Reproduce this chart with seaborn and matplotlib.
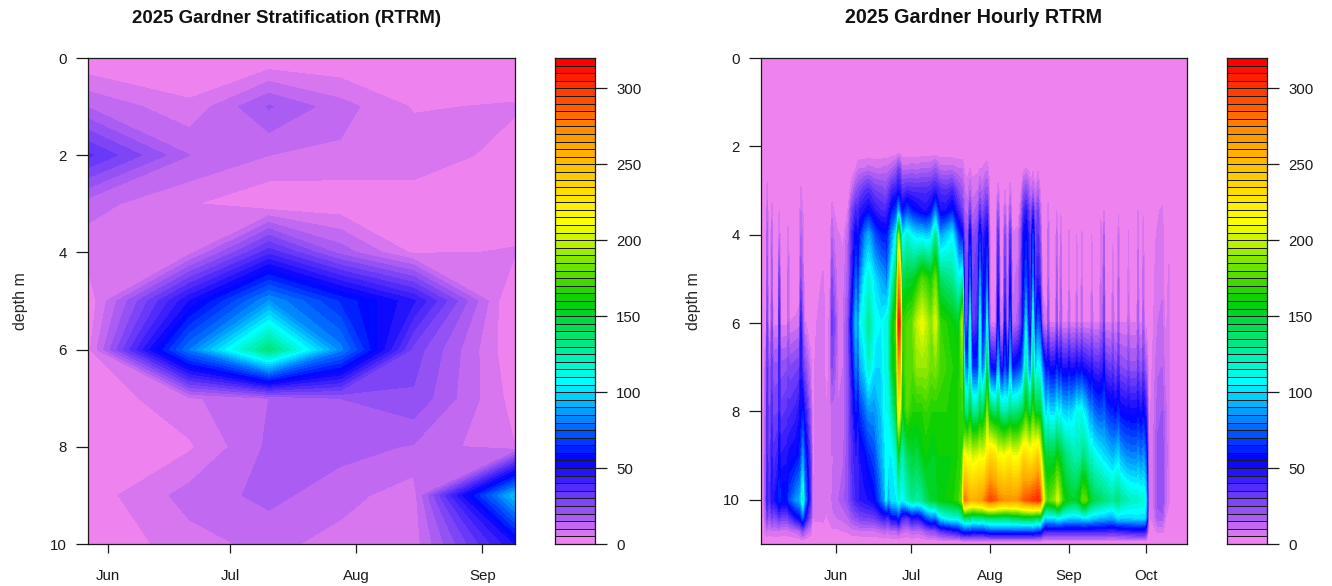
# gardner_rtrm.py

import numpy as np
import matplotlib
matplotlib.use("Agg")
import matplotlib.pyplot as plt
from matplotlib.colors import ListedColormap
import seaborn as sns

# Tick labels (x positions are day of year, hourly panel runs on its own day scale)
month_names = ["Jun", "Jul", "Aug", "Sep", "Oct"]
strat_month_days = [152, 182, 213, 244]
hourly_month_days = [152, 182, 213.6, 245.2, 276]
depth_ticks = [0, 2, 4, 6, 8, 10]
key_ticks = [0, 50, 100, 150, 200, 250, 300]

# Stratification profiles, one row per depth, one column per sampling date
strat_days = [147, 172, 191.5, 209, 227, 252]
strat_depths = [0, 1, 2, 3, 4, 5, 6, 7, 8, 9, 10]
strat_rtrm = [
    [0, 0, 0, 0, 0, 0],
    [14.5, 6, 20.5, 12, 4.5, 5.5],
    [36, 15, 10, 9, 8, 3],
    [12, 5.5, 0.5, 1, 2, 1],
    [7, 8, 38, 18, 4, 5.5],
    [1, 50, 85, 64, 46, -3],
    [3, 80, 135, 82, 28, 0],
    [1, 9, 15, 20, 24, 2.5],
    [1, 4.2, 16, 17, 14.5, 5],
    [2, 12, 16.5, 12, 7, 95],
    [0, 8, 11.5, 8, 7, 50],
]

# Hourly logger: one row per time, one value per depth
hourly_depths = [2.1, 2.5, 3.0, 3.45, 4, 5, 6, 7, 8, 9, 10, 10.4, 10.7, 10.95]
hourly_days = [
    123, 123.8, 124.2, 124.5, 124.9, 125.9, 126.3, 126.8, 128.9, 129.3, 129.8,
    132.5, 132.9, 133.4, 136, 137.4, 137.9, 138.7, 139.4, 140, 141.8, 142.6,
    143.5, 146.8, 148.2, 149.8, 150.4, 151, 152.5, 155, 157, 158.2,
    160, 160.8, 161.6, 163.5, 165, 167.5, 170, 171.6, 172, 173, 174.4, 176.3, 177,
    177.6, 178.4, 180.5, 182.5, 184.5, 186.5, 188, 190, 191.8, 193.5, 196, 198.5,
    201, 202.5, 203.4, 204.8, 205.6, 206.4, 208.8, 209.6, 210.4, 212, 212.5,
    213.1, 213.7, 216, 216.9, 217.6, 218.9, 219.6, 220.3, 221.1, 221.7, 222.4,
    225, 226.2, 227, 228, 229, 230, 230.8, 231.6, 232.8, 233.6, 234.5, 235.5,
    236.5, 236.9, 237.4, 239.9, 240.3, 240.7, 241.5, 241.9, 242.4, 244.8, 245.2,
    245.7, 247.9, 248.3, 248.7, 249.9, 250.3, 250.7, 251.8, 253.9, 254.3, 254.8,
    257.5, 257.9, 258.5, 259.2, 259.6, 262.3, 262.7, 263.2, 264.6, 265, 265.4,
    268.6, 269, 269.4, 272.4, 272.8, 273.3, 274.5, 274.9, 275.4, 276.2, 277,
    278.8, 280.8, 282.4, 283.6, 285.2, 286,
]
hourly_rtrm = [
    [0, 0, 0, 0, 0, 0, 0, 0, 0, 0, 0, 0, 0, 0],
    [0, 0, 0, 0, 0, 0, 0, 12, 15, 18, 20, 15, 8, 0],
    [0, 0, 0, 0, 0, 0, 3, 20, 22, 24, 28, 18, 8, 0],
    [0, 0, 8, 12, 18, 22, 30, 35, 38, 40, 45, 30, 10, 0],
    [0, 0, 0, 0, 0, 0, 3, 20, 25, 30, 35, 20, 8, 0],
    [0, 0, 0, 0, 0, 0, 3, 20, 26, 32, 38, 22, 8, 0],
    [0, 0, 0, 8, 14, 18, 25, 32, 38, 45, 50, 30, 10, 0],
    [0, 0, 0, 0, 0, 0, 4, 22, 28, 36, 45, 25, 9, 0],
    [0, 0, 0, 0, 0, 0, 4, 22, 30, 42, 58, 30, 10, 0],
    [0, 0, 0, 5, 10, 30, 42, 42, 45, 55, 65, 35, 10, 0],
    [0, 0, 0, 0, 0, 0, 4, 22, 32, 45, 60, 30, 8, 0],
    [0, 0, 0, 0, 0, 0, 4, 24, 36, 48, 60, 30, 8, 0],
    [0, 0, 0, 0, 8, 12, 15, 28, 38, 50, 62, 30, 8, 0],
    [0, 0, 0, 0, 0, 0, 5, 25, 38, 52, 70, 35, 10, 0],
    [0, 0, 0, 0, 0, 0, 6, 28, 42, 55, 85, 50, 12, 0],
    [0, 0, 0, 0, 0, 0, 8, 30, 48, 60, 90, 55, 15, 0],
    [0, 0, 6, 10, 15, 25, 45, 48, 55, 65, 95, 60, 18, 0],
    [0, 0, 0, 5, 8, 12, 18, 32, 60, 85, 118, 75, 25, 0],
    [0, 0, 0, 0, 0, 0, 5, 25, 45, 65, 85, 55, 18, 0],
    [0, 0, 0, 0, 0, 0, 5, 22, 40, 60, 75, 45, 15, 0],
    [0, 0, 0, 0, 0, 0, 0, 8, 18, 30, 35, 25, 8, 0],
    [0, 0, 0, 0, 0, 0, 0, 0, 0, 3, 3, 3, 0, 0],
    [0, 0, 0, 0, 0, 0, 4, 5, 5, 5, 8, 6, 2, 0],
    [0, 0, 0, 0, 0, 6, 8, 8, 8, 8, 8, 6, 3, 0],
    [0, 0, 0, 0, 0, 0, 0, 0, 5, 6, 6, 4, 2, 0],
    [0, 0, 0, 0, 0, 5, 8, 8, 8, 8, 9, 7, 3, 0],
    [0, 0, 0, 8, 14, 25, 32, 25, 12, 10, 10, 8, 4, 0],
    [0, 0, 0, 5, 10, 18, 28, 22, 12, 10, 12, 9, 4, 0],
    [0, 0, 0, 0, 6, 8, 10, 10, 10, 12, 14, 10, 4, 0],
    [0, 0, 0, 0, 3, 8, 10, 10, 12, 14, 18, 12, 5, 0],
    [0, 0, 0, 6, 15, 18, 25, 25, 25, 25, 25, 15, 6, 0],
    [0, 0, 10, 25, 35, 40, 55, 45, 38, 35, 32, 20, 8, 0],
    [0, 5, 22, 40, 55, 75, 95, 80, 60, 45, 40, 25, 8, 0],
    [0, 8, 25, 38, 45, 55, 70, 60, 45, 40, 42, 25, 8, 0],
    [0, 10, 28, 45, 60, 80, 105, 90, 65, 50, 45, 28, 10, 0],
    [0, 10, 35, 50, 80, 105, 115, 100, 75, 55, 48, 30, 10, 0],
    [0, 12, 38, 55, 90, 115, 128, 118, 85, 62, 50, 30, 10, 0],
    [0, 10, 30, 45, 70, 100, 110, 100, 85, 70, 55, 32, 10, 0],
    [0, 10, 28, 40, 60, 90, 105, 100, 95, 90, 75, 40, 12, 0],
    [0, 12, 25, 38, 60, 85, 110, 110, 110, 100, 90, 45, 14, 0],
    [0, 10, 25, 40, 55, 70, 115, 112, 110, 110, 105, 40, 12, 0],
    [0, 12, 30, 45, 65, 90, 115, 115, 110, 105, 85, 40, 12, 0],
    [0, 15, 40, 60, 85, 115, 150, 150, 125, 105, 105, 55, 15, 0],
    [0, 20, 45, 70, 110, 150, 175, 170, 150, 120, 105, 55, 15, 0],
    [0, 30, 50, 90, 190, 270, 315, 265, 220, 150, 115, 65, 20, 0],
    [0, 25, 45, 70, 150, 240, 290, 250, 200, 130, 110, 50, 15, 0],
    [0, 12, 35, 55, 100, 140, 165, 160, 150, 120, 105, 40, 12, 0],
    [0, 12, 40, 70, 115, 150, 175, 180, 175, 140, 120, 35, 10, 0],
    [0, 14, 38, 60, 105, 150, 180, 175, 165, 150, 130, 50, 15, 0],
    [0, 12, 38, 55, 100, 160, 200, 190, 165, 145, 125, 45, 12, 0],
    [0, 15, 38, 50, 100, 175, 210, 190, 165, 155, 130, 55, 15, 0],
    [0, 15, 38, 48, 95, 170, 200, 190, 170, 160, 140, 70, 20, 0],
    [0, 15, 40, 55, 100, 160, 185, 180, 165, 155, 150, 80, 25, 0],
    [0, 20, 45, 80, 130, 180, 205, 185, 165, 155, 150, 75, 25, 0],
    [0, 12, 38, 50, 85, 140, 170, 175, 165, 160, 158, 100, 35, 0],
    [0, 12, 35, 50, 95, 135, 165, 170, 165, 160, 160, 110, 40, 0],
    [0, 12, 40, 60, 105, 130, 160, 165, 165, 160, 162, 115, 45, 0],
    [0, 10, 25, 40, 65, 110, 150, 160, 165, 165, 170, 115, 50, 0],
    [0, 10, 20, 30, 55, 120, 195, 180, 170, 170, 185, 125, 60, 0],
    [0, 3, 10, 15, 25, 30, 30, 85, 135, 215, 280, 140, 65, 0],
    [0, 3, 8, 12, 20, 25, 30, 70, 130, 205, 265, 135, 62, 0],
    [0, 5, 15, 30, 55, 75, 110, 110, 150, 210, 255, 140, 65, 0],
    [0, 3, 8, 12, 22, 28, 30, 65, 130, 200, 255, 130, 60, 0],
    [0, 3, 10, 18, 30, 35, 40, 65, 130, 205, 260, 135, 62, 0],
    [0, 5, 18, 35, 60, 85, 110, 105, 145, 210, 265, 135, 62, 0],
    [0, 5, 12, 22, 38, 45, 50, 70, 135, 205, 265, 130, 60, 0],
    [0, 8, 22, 35, 50, 60, 70, 100, 160, 210, 280, 140, 65, 0],
    [0, 8, 22, 38, 55, 75, 110, 145, 185, 225, 285, 140, 65, 0],
    [0, 3, 10, 15, 20, 25, 30, 80, 150, 225, 290, 140, 68, 0],
    [0, 0, 0, 0, 0, 0, 5, 55, 145, 235, 295, 140, 70, 0],
    [0, 0, 0, 0, 0, 0, 5, 50, 135, 225, 285, 140, 70, 0],
    [0, 0, 8, 20, 35, 45, 60, 95, 145, 205, 275, 140, 70, 0],
    [0, 0, 0, 0, 0, 3, 6, 50, 130, 215, 275, 140, 70, 0],
    [0, 0, 0, 0, 0, 3, 8, 50, 125, 210, 270, 140, 70, 0],
    [0, 0, 5, 12, 25, 35, 50, 70, 125, 210, 270, 140, 70, 0],
    [0, 0, 0, 0, 3, 6, 10, 50, 125, 215, 270, 140, 70, 0],
    [0, 0, 0, 3, 8, 12, 15, 55, 130, 218, 270, 140, 70, 0],
    [0, 0, 8, 18, 35, 50, 70, 95, 135, 220, 270, 140, 70, 0],
    [0, 0, 0, 0, 5, 8, 10, 55, 130, 210, 268, 145, 70, 0],
    [0, 0, 0, 0, 8, 12, 18, 65, 135, 210, 270, 145, 70, 0],
    [0, 0, 5, 15, 25, 30, 35, 70, 140, 220, 278, 148, 70, 0],
    [0, 3, 20, 35, 50, 55, 55, 85, 145, 235, 285, 150, 70, 0],
    [0, 5, 25, 45, 58, 70, 100, 125, 165, 230, 290, 150, 70, 0],
    [0, 3, 18, 32, 42, 48, 50, 85, 145, 225, 292, 150, 70, 0],
    [0, 0, 8, 18, 30, 35, 40, 80, 145, 220, 295, 150, 70, 0],
    [0, 3, 15, 40, 65, 80, 115, 130, 170, 225, 300, 150, 72, 0],
    [0, 0, 5, 15, 25, 30, 40, 85, 150, 230, 300, 145, 68, 0],
    [0, 3, 15, 30, 35, 45, 75, 110, 150, 240, 305, 140, 65, 0],
    [0, 0, 5, 12, 22, 35, 65, 105, 150, 215, 295, 148, 65, 0],
    [0, 0, 0, 0, 0, 0, 15, 80, 125, 180, 240, 120, 50, 0],
    [0, 0, 0, 0, 0, 0, 8, 60, 100, 150, 190, 100, 42, 0],
    [0, 0, 0, 0, 0, 0, 6, 52, 100, 145, 175, 100, 42, 0],
    [0, 0, 0, 8, 12, 15, 25, 60, 108, 150, 170, 105, 42, 0],
    [0, 0, 0, 0, 0, 0, 5, 50, 100, 148, 178, 105, 42, 0],
    [0, 0, 0, 0, 0, 0, 5, 52, 100, 150, 190, 105, 42, 0],
    [0, 0, 0, 5, 12, 18, 25, 62, 110, 160, 200, 110, 42, 0],
    [0, 0, 0, 0, 0, 0, 5, 55, 105, 158, 205, 110, 42, 0],
    [0, 0, 0, 0, 0, 0, 5, 50, 100, 150, 190, 108, 42, 0],
    [0, 0, 0, 4, 10, 15, 20, 58, 108, 150, 185, 108, 42, 0],
    [0, 0, 0, 0, 0, 0, 5, 48, 98, 145, 170, 105, 42, 0],
    [0, 0, 0, 0, 0, 0, 5, 48, 95, 130, 155, 100, 42, 0],
    [0, 0, 0, 0, 6, 8, 15, 55, 100, 132, 155, 100, 42, 0],
    [0, 0, 0, 0, 0, 0, 5, 48, 95, 128, 152, 100, 42, 0],
    [0, 0, 0, 0, 0, 0, 5, 50, 105, 122, 150, 100, 42, 0],
    [0, 0, 0, 0, 5, 8, 15, 55, 112, 125, 155, 100, 42, 0],
    [0, 0, 0, 0, 0, 0, 5, 50, 108, 122, 155, 100, 42, 0],
    [0, 0, 0, 0, 0, 0, 5, 50, 110, 125, 165, 100, 42, 0],
    [0, 0, 0, 0, 6, 10, 15, 55, 112, 128, 172, 102, 42, 0],
    [0, 0, 0, 0, 0, 0, 5, 50, 105, 135, 180, 105, 42, 0],
    [0, 0, 0, 0, 0, 0, 5, 48, 100, 130, 178, 105, 42, 0],
    [0, 0, 0, 0, 0, 0, 5, 42, 80, 115, 150, 100, 42, 0],
    [0, 0, 0, 0, 5, 8, 15, 48, 85, 118, 150, 100, 42, 0],
    [0, 0, 0, 0, 0, 0, 5, 40, 78, 112, 145, 98, 42, 0],
    [0, 0, 0, 0, 0, 0, 5, 38, 70, 105, 140, 95, 42, 0],
    [0, 0, 0, 3, 8, 10, 15, 42, 72, 105, 140, 95, 42, 0],
    [0, 0, 0, 0, 0, 0, 5, 36, 70, 102, 138, 95, 42, 0],
    [0, 0, 0, 5, 15, 22, 30, 52, 75, 100, 135, 95, 42, 0],
    [0, 0, 0, 0, 0, 0, 5, 36, 68, 100, 135, 92, 42, 0],
    [0, 0, 0, 0, 0, 0, 5, 30, 60, 92, 128, 90, 40, 0],
    [0, 0, 0, 0, 4, 8, 15, 36, 62, 92, 128, 92, 40, 0],
    [0, 0, 0, 0, 0, 0, 5, 28, 58, 92, 130, 92, 40, 0],
    [0, 0, 0, 0, 0, 0, 5, 28, 60, 98, 135, 100, 42, 0],
    [0, 0, 0, 4, 10, 15, 20, 40, 64, 100, 135, 102, 42, 0],
    [0, 0, 0, 0, 0, 0, 5, 26, 56, 92, 130, 100, 42, 0],
    [0, 0, 0, 0, 0, 0, 5, 22, 52, 82, 122, 100, 45, 0],
    [0, 0, 0, 0, 6, 8, 14, 30, 54, 84, 122, 100, 45, 0],
    [0, 0, 0, 0, 0, 0, 5, 22, 52, 82, 120, 100, 45, 0],
    [0, 0, 0, 0, 0, 0, 5, 22, 52, 82, 118, 102, 48, 0],
    [0, 0, 0, 5, 9, 12, 18, 32, 56, 85, 118, 102, 48, 0],
    [0, 0, 0, 0, 0, 0, 5, 22, 50, 80, 116, 102, 48, 0],
    [0, 0, 0, 0, 0, 0, 5, 22, 50, 80, 115, 102, 48, 0],
    [0, 0, 0, 4, 8, 12, 18, 32, 56, 85, 115, 102, 48, 0],
    [0, 0, 0, 0, 0, 0, 4, 22, 50, 80, 115, 102, 48, 0],
    [0, 0, 0, 0, 0, 0, 3, 16, 38, 62, 90, 78, 32, 0],
    [0, 0, 0, 0, 0, 0, 0, 0, 3, 4, 4, 4, 2, 0],
    [0, 0, 0, 0, 3, 4, 4, 6, 7, 8, 8, 6, 3, 0],
    [0, 0, 0, 4, 6, 7, 10, 14, 18, 22, 22, 18, 6, 0],
    [0, 0, 0, 6, 8, 8, 12, 15, 20, 25, 25, 18, 6, 0],
    [0, 0, 0, 0, 0, 0, 4, 8, 12, 14, 12, 6, 3, 0],
    [0, 0, 0, 0, 3, 6, 6, 6, 6, 6, 6, 0, 0, 0],
    [0, 0, 0, 0, 0, 0, 0, 0, 0, 0, 0, 0, 0, 0],
]

sns.set_theme(style="ticks")
plt.rcParams["font.family"] = ["Liberation Sans", "DejaVu Sans"]
plt.rcParams["axes.linewidth"] = 0.9
plt.rcParams["axes.edgecolor"] = "#1a1a1a"
plt.rcParams["xtick.color"] = "#1a1a1a"
plt.rcParams["ytick.color"] = "#1a1a1a"
plt.rcParams["text.color"] = "#111111"

# Same ramp as the R palette, 64 bands of 5 units
ramp = ["#EE82EE", "#0000FF", "#00FFFF", "#00CD00", "#FFFF00", "#FFA500", "#FF0000"]
palette = sns.blend_palette(ramp, n_colors=64)
levels = np.arange(0, 325, 5)
cmap = ListedColormap(palette)
cmap.set_under(palette[0])


def place(fig, left, right, top, bottom):
    return fig.add_axes([left / 1332, 1 - bottom / 586, (right - left) / 1332, (bottom - top) / 586])


def draw_panel(ax, days, depths, values, title, title_x, title_size, xlim, ylim, ticks, labels):
    ax.set_facecolor(palette[0])
    filled = ax.contourf(days, depths, values, levels=levels, cmap=cmap, vmin=0, vmax=320, extend="min")
    # hide the hairlines between bands
    filled.set_edgecolor("face")
    filled.set_linewidth(0.25)
    ax.set_xlim(xlim)
    ax.set_ylim(ylim)
    ax.set_xticks(ticks)
    ax.set_xticklabels(labels)
    ax.set_yticks(depth_ticks)
    ax.tick_params(axis="x", length=6.8, width=0.9, pad=11, labelsize=10.8)
    ax.tick_params(axis="y", length=8.3, width=0.9, pad=7, labelsize=10.8)
    ax.set_ylabel("depth m", fontsize=11.5, labelpad=16)
    ax.set_title(title, x=title_x, fontsize=title_size, fontweight="bold", pad=25)


def draw_key(ax):
    ax.pcolormesh([0, 1], levels, np.arange(64).reshape(-1, 1), cmap=ListedColormap(palette),
                  edgecolors="#1a1a1a", linewidth=0.4)
    ax.set_xlim(0, 1)
    ax.set_ylim(0, 320)
    ax.set_xticks([])
    ax.yaxis.tick_right()
    ax.set_yticks(key_ticks)
    ax.tick_params(axis="y", length=8.3, width=0.9, pad=7, labelsize=10.8)


fig = plt.figure(figsize=(13.32, 5.86), dpi=100)

ax1 = place(fig, 88, 515, 58, 544)
draw_panel(ax1, strat_days, strat_depths, np.array(strat_rtrm), "2025 Gardner Stratification (RTRM)",
           0.466, 13.4, (147, 252), (10, 0), strat_month_days, month_names[:4])
draw_key(place(fig, 555, 595, 58, 544))

ax2 = place(fig, 761, 1187, 58, 544)
draw_panel(ax2, hourly_days, hourly_depths, np.array(hourly_rtrm).T, "2025 Gardner Hourly RTRM",
           0.5, 14.2, (122, 292.4), (11, 0), hourly_month_days, month_names)
draw_key(place(fig, 1227, 1267, 58, 544))

fig.savefig("out.png", dpi=100)
